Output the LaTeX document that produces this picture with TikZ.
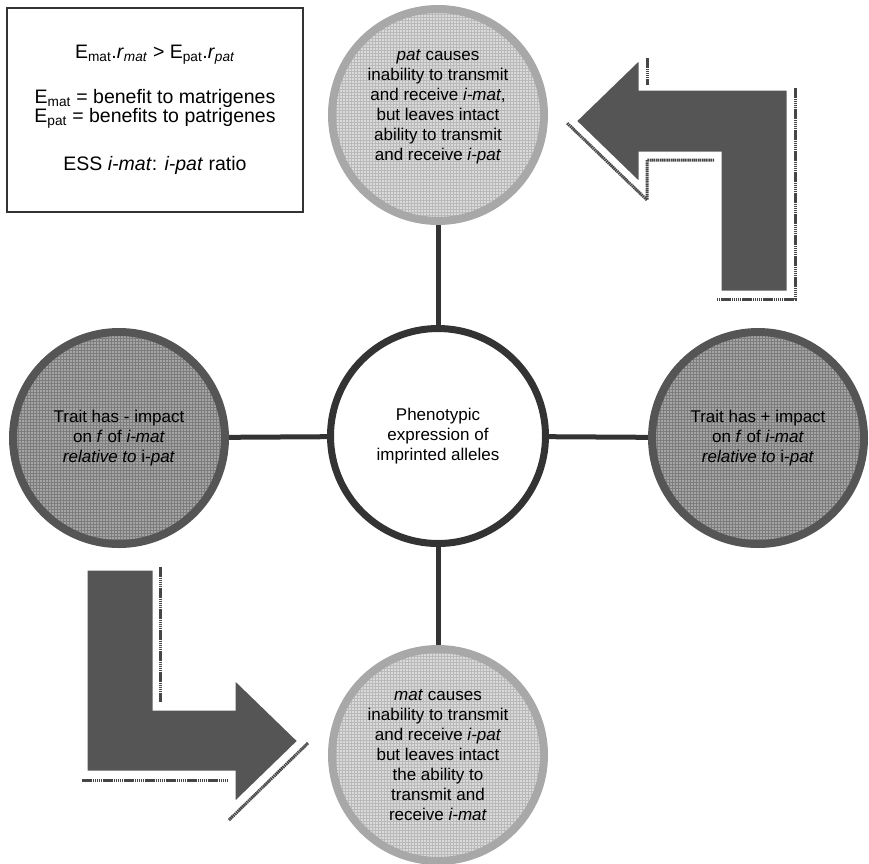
\documentclass[tikz,border=0pt]{standalone}
\usepackage{fontspec}
\setmainfont{Liberation Sans}
\usetikzlibrary{patterns,backgrounds}
\definecolor{darkline}{RGB}{51,51,51}
\definecolor{arrowgrey}{RGB}{85,85,85}
\definecolor{shadowgrey}{RGB}{70,70,70}
\definecolor{traitedge}{RGB}{85,85,85}
\definecolor{traitfill}{RGB}{165,165,165}
\definecolor{traitgrid}{RGB}{125,125,125}
\definecolor{causeedge}{RGB}{168,168,168}
\definecolor{causefill}{RGB}{218,218,218}
\definecolor{causegrid}{RGB}{185,185,185}

\begin{document}
\begin{tikzpicture}[x=1pt,y=-1pt,
    every node/.style={font=\fontsize{17}{20}\selectfont, align=center},
    hub/.style={circle, draw=darkline, line width=7pt, fill=white, minimum size=215pt, inner sep=0pt},
    trait/.style={circle, draw=traitedge, line width=8pt, preaction={fill=traitfill},
        pattern=grid, pattern color=traitgrid, minimum size=212pt, inner sep=0pt},
    cause/.style={circle, draw=causeedge, line width=8pt, preaction={fill=causefill},
        pattern=grid, pattern color=causegrid, minimum size=212pt, inner sep=0pt},
    spoke/.style={draw=darkline, line width=5pt},
    bigarrow/.style={fill=arrowgrey, draw=white, line width=3pt},
    arrowshadow/.style={draw=shadowgrey, line width=3pt, dash pattern=on 1.5pt off 0.6pt}]
    % Page size
    \useasboundingbox (0,0) rectangle (869,863);

    % Formula box
    \node[draw=darkline, line width=1.2pt, minimum width=296pt, minimum height=204pt,
          font=\fontsize{19.5}{20}\selectfont] (essbox) at (155,110)
        {E\textsubscript{mat}.\textit{r}\textsubscript{\textit{mat}} > E\textsubscript{pat}.\textit{r}\textsubscript{\textit{pat}}\\[24pt]
         E\textsubscript{mat} = benefit to matrigenes\\[-1pt]
         E\textsubscript{pat} = benefits to patrigenes\\[27pt]
         ESS \textit{i-mat}: \textit{i-pat} ratio};

    % Centre and the four circles
    \node[hub] (hub) at (438,436) {Phenotypic\\expression of\\imprinted alleles};
    \node[cause] (patcause) at (438,115)
        {\textit{pat} causes\\inability to transmit\\and receive \textit{i-mat},\\but leaves intact\\ability to transmit\\and receive \textit{i-pat}\\ \mbox{}};
    \node[cause] (matcause) at (438,755)
        {\textit{mat} causes\\inability to transmit\\and receive \textit{i-pat}\\but leaves intact\\the ability to\\transmit and\\receive \textit{i-mat}};
    \node[trait] (minus) at (119,438)
        {Trait has - impact\\on \textit{f} of \textit{i-mat}\\\textit{relative to} i-\textit{pat}};
    \node[trait] (plus) at (758,438)
        {Trait has + impact\\on \textit{f} of \textit{i-mat}\\\textit{relative to} i-\textit{pat}};

    % Spokes
    \begin{scope}[on background layer]
        \draw[spoke] (hub) -- (patcause);
        \draw[spoke] (hub) -- (matcause);
        \draw[spoke] (hub) -- (minus);
        \draw[spoke] (hub) -- (plus);
    \end{scope}

    % Top right bent arrow
    \draw[arrowshadow] (647,58) -- (647,85);
    \draw[arrowshadow] (795,88) -- (795,299) -- (717,299);
    \draw[arrowshadow] (714,160) -- (647,160) -- (647,200) -- (567,123);
    \path[bigarrow] (575,121) -- (640,58) -- (640,89) -- (788,89) -- (788,292)
        -- (720,292) -- (720,153) -- (640,153) -- (640,184) -- cycle;

    % Bottom left bent arrow
    \draw[arrowshadow] (160,567) -- (160,702);
    \draw[arrowshadow] (82,780) -- (227,780);
    \draw[arrowshadow] (308,743) -- (229,820);
    \path[bigarrow] (86,569) -- (154,569) -- (154,709) -- (234,709) -- (234,678)
        -- (299,741) -- (234,804) -- (234,772) -- (86,772) -- cycle;
\end{tikzpicture}
\end{document}
